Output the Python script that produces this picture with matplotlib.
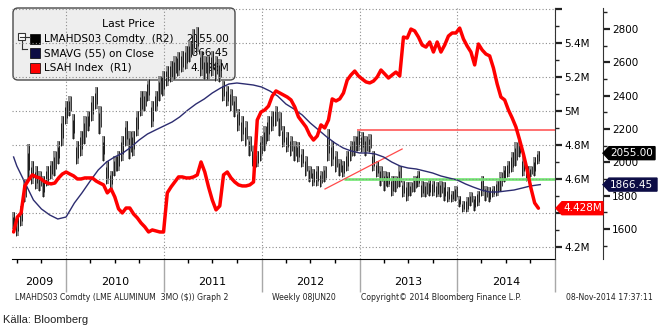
import numpy as np
import pandas as pd
import matplotlib
matplotlib.use("Agg")
import matplotlib.pyplot as plt
import matplotlib.dates as mdates
from matplotlib.patches import FancyBboxPatch, Polygon, Rectangle
from matplotlib.lines import Line2D
from matplotlib.transforms import blended_transform_factory, IdentityTransform
from matplotlib.ticker import FixedLocator, MultipleLocator, NullFormatter

plt.rcParams['font.family'] = ['DejaVu Sans']

# ---------------- data ----------------
bar_start = "2009-06-19"          # bi-weekly sampling of the weekly bars
price_low = [1600, 1560, 1620, 1760, 1900, 1870, 1840, 1830, 1790, 1860,
             1900, 1920, 1990, 2100, 2230, 2280, 2140, 1990, 2040, 2110,
             2190, 2250, 2320, 2170, 2010, 1870, 1840, 1920, 1950, 2010,
             2100, 2020, 2040, 2160, 2280, 2310, 2370, 2210, 2310, 2370,
             2400, 2460, 2480, 2500, 2520, 2540, 2560, 2600, 2650, 2660,
             2520, 2500, 2500, 2520, 2490, 2480, 2370, 2340, 2310, 2270,
             2190, 2130, 2100, 2040, 1980, 1970, 2010, 2070, 2130, 2190,
             2220, 2160, 2090, 2060, 2040, 2010, 2000, 1970, 1920, 1880,
             1860, 1860, 1850, 1880, 2010, 1980, 1940, 1920, 1910, 1950,
             2010, 2040, 2070, 2060, 2040, 2060, 1950, 1910, 1860, 1830,
             1850, 1800, 1820, 1850, 1790, 1770, 1800, 1820, 1850, 1790,
             1790, 1800, 1800, 1790, 1790, 1770, 1760, 1760, 1770, 1730,
             1700, 1700, 1740, 1710, 1740, 1800, 1770, 1760, 1790, 1800,
             1830, 1880, 1910, 1940, 1980, 2030, 1920, 1890, 1910, 1920,
             1990]
price_high = [1700, 1680, 1740, 1900, 2110, 2010, 1980, 1950, 1920, 1980,
              2010, 2070, 2130, 2280, 2370, 2400, 2290, 2130, 2190, 2280,
              2310, 2400, 2450, 2340, 2160, 2010, 1950, 2040, 2070, 2160,
              2250, 2190, 2190, 2310, 2430, 2430, 2500, 2370, 2430, 2520,
              2550, 2580, 2610, 2640, 2660, 2670, 2700, 2730, 2800, 2810,
              2670, 2640, 2640, 2670, 2640, 2620, 2490, 2460, 2440, 2400,
              2320, 2280, 2250, 2160, 2100, 2070, 2160, 2220, 2280, 2310,
              2340, 2300, 2220, 2180, 2160, 2130, 2120, 2080, 2040, 1980,
              1960, 1980, 1950, 1980, 2200, 2130, 2070, 2020, 2010, 2070,
              2130, 2160, 2190, 2180, 2160, 2170, 2070, 2010, 1980, 1950,
              1940, 1920, 1920, 1980, 1890, 1880, 1880, 1920, 1950, 1890,
              1880, 1900, 1890, 1880, 1890, 1880, 1850, 1830, 1860, 1800,
              1770, 1790, 1820, 1800, 1830, 1920, 1860, 1850, 1860, 1890,
              1940, 1980, 2010, 2060, 2120, 2130, 2040, 1980, 1980, 2030,
              2070]
lsah_index = [4.288, 4.376, 4.400, 4.559, 4.594, 4.624, 4.612, 4.606, 4.588, 4.576,
              4.571, 4.576, 4.606, 4.629, 4.641, 4.629, 4.618, 4.600, 4.600, 4.606,
              4.606, 4.606, 4.588, 4.576, 4.565, 4.518, 4.541, 4.494, 4.424, 4.400,
              4.429, 4.429, 4.394, 4.371, 4.341, 4.318, 4.288, 4.300, 4.294, 4.288,
              4.288, 4.518, 4.553, 4.582, 4.612, 4.612, 4.606, 4.606, 4.612, 4.624,
              4.700, 4.641, 4.553, 4.476, 4.418, 4.441, 4.624, 4.641, 4.606, 4.582,
              4.565, 4.559, 4.559, 4.565, 4.582, 4.947, 4.994, 5.006, 5.029, 5.088,
              5.118, 5.106, 5.094, 5.082, 5.065, 5.024, 4.965, 4.935, 4.906, 4.859,
              4.829, 4.853, 4.918, 4.900, 4.947, 5.071, 5.059, 5.071, 5.106, 5.182,
              5.212, 5.235, 5.206, 5.188, 5.171, 5.165, 5.176, 5.200, 5.241, 5.218,
              5.194, 5.212, 5.229, 5.206, 5.435, 5.429, 5.482, 5.471, 5.435, 5.388,
              5.376, 5.406, 5.347, 5.406, 5.347, 5.388, 5.441, 5.459, 5.459, 5.488,
              5.424, 5.382, 5.347, 5.271, 5.394, 5.359, 5.335, 5.324, 5.253, 5.159,
              5.082, 5.065, 5.006, 4.959, 4.906, 4.829, 4.747, 4.653, 4.547, 4.459,
              4.428]
sma_dates = (["2009-06-19"]
             + [d.strftime("%Y-%m-%d") for d in pd.date_range("2009-07-01", "2014-10-01", freq="MS")]
             + ["2014-11-07"])
sma_values = [2032, 1978, 1876, 1774, 1720, 1684, 1660,
              1672, 1756, 1816, 1888, 1954, 2002, 2032, 2056, 2092, 2134, 2170, 2194,
              2218, 2242, 2272, 2314, 2350, 2380, 2416, 2446, 2470, 2476, 2470, 2464,
              2452, 2428, 2398, 2350, 2320, 2284, 2236, 2194, 2152, 2116, 2086, 2068,
              2056, 2056, 2050, 2032, 2002, 1978, 1966, 1960, 1948, 1936, 1918, 1906,
              1894, 1870, 1852, 1834, 1822, 1822, 1828, 1834, 1846, 1858,
              1866.45]
last_price = 2055.00
last_sma = 1866.45
last_lsah = 4.428

resistance_level = 2195
resistance_start = "2012-12-22"
support_level = 1900
support_start = "2012-11-03"
trend_dates = ["2012-08-25", "2013-06-09"]
trend_values = [1840, 2080]

years = [2009, 2010, 2011, 2012, 2013, 2014]
r1_ticks = [4.2, 4.4, 4.6, 4.8, 5.0, 5.2, 5.4, 5.6]
r1_labels = ["4.2M", "", "4.6M", "4.8M", "5M", "5.2M", "5.4M", ""]
r2_ticks = [1600, 1800, 2000, 2200, 2400, 2600, 2800]
r2_labels = ["1600", "1800", "2000", "2200", "2400", "2600", "2800"]

legend_rows = [("LMAHDS03 Comdty  (R2)", "2055.00", "black"),
               ("SMAVG (55) on Close", "1866.45", "#0c0c45"),
               ("LSAH Index  (R1)", "4.428M", "#ff0000")]

# ---------------- figure ----------------
W, H = 662, 331
fig = plt.figure(figsize=(W / 100, H / 100), dpi=100)
fig.patch.set_facecolor('white')
L, R, T, B = 12, 555, 8, 259
axp = fig.add_axes([L / W, 1 - B / H, (R - L) / W, (B - T) / H])
axp.set_facecolor('none')
axr = axp.twinx()
axr.set_facecolor('none')
axp.yaxis.tick_right()

dates = pd.date_range(bar_start, periods=len(price_low), freq="14D")
x_left = pd.Timestamp("2009-06-13")
x_right = pd.Timestamp("2015-01-01")

# price bars
lo = np.array(price_low, dtype=float)
hi = np.array(price_high, dtype=float)
axp.bar(dates, hi - lo, bottom=lo, width=pd.Timedelta(days=11), color='#8c8c8c',
        edgecolor='none', zorder=2)
axp.vlines(dates - pd.Timedelta(days=4), lo, hi - (hi - lo) * 0.25, color='black', lw=0.55, zorder=3)
axp.vlines(dates + pd.Timedelta(days=3), lo + (hi - lo) * 0.25, hi, color='black', lw=0.55, zorder=3)
# moving average
axp.plot(pd.to_datetime(sma_dates), sma_values, color='#2c2c70', lw=1.0, zorder=4)
# annotation lines
axp.hlines(support_level, pd.Timestamp(support_start), x_right, color='#70e870', lw=1.9, zorder=3.5)
axp.hlines(resistance_level, pd.Timestamp(resistance_start), x_right, color='#ff4a4a', lw=1.1, zorder=3.5)
axp.plot(pd.to_datetime(trend_dates), trend_values, color='#ff4a4a', lw=0.9, zorder=3.5)
# LSAH index
axr.plot(dates, lsah_index, color='#ff0000', lw=2.5, solid_joinstyle='round',
         solid_capstyle='round', zorder=5)

axp.set_xlim(x_left, x_right)
axp.set_ylim(1420, 2926)
axr.set_ylim(4.129, 5.606)

# spines
for ax in (axp, axr):
    ax.spines['top'].set_visible(False)
    ax.spines['left'].set_visible(False)
axr.spines['bottom'].set_visible(False)
axp.spines['right'].set_position(('axes', (603 - L) / (R - L)))
axp.spines['right'].set_color('#333333')
axr.spines['right'].set_color('#333333')
axp.spines['bottom'].set_color('black')

# x axis
axp.xaxis.set_major_locator(mdates.YearLocator())
axp.xaxis.set_minor_locator(mdates.MonthLocator(bymonth=[4, 7, 10]))
axp.xaxis.set_major_formatter(NullFormatter())
axp.tick_params(axis='x', which='major', length=24, width=1, color='#a8a8a8', direction='out')
axp.tick_params(axis='x', which='minor', length=3, width=1, color='black', direction='out')
axp.grid(axis='x', which='major', color='#8c8c8c', ls=(0, (1, 2)), lw=0.8)

# y axes
axr.yaxis.set_major_locator(FixedLocator(r1_ticks))
axr.set_yticklabels(r1_labels)
axr.yaxis.set_minor_locator(MultipleLocator(0.1))
axr.tick_params(axis='y', which='major', length=5, width=1.6, pad=1.5, labelsize=7.5, colors='#222222')
axr.tick_params(axis='y', which='minor', length=3, width=1, colors='#222222')
axr.grid(axis='y', which='major', color='#8c8c8c', ls=(0, (1, 2)), lw=0.8)

axp.yaxis.set_major_locator(FixedLocator(r2_ticks))
axp.set_yticklabels(r2_labels)
axp.yaxis.set_minor_locator(MultipleLocator(100))
axp.tick_params(axis='y', which='major', length=5, width=1.6, pad=1.5, labelsize=7.5, colors='#222222')
axp.tick_params(axis='y', which='minor', length=3, width=1, colors='#222222')
for lab in axp.get_yticklabels() + axr.get_yticklabels():
    lab.set_color('black')

# year labels
btr = blended_transform_factory(axp.transData, axp.transAxes)
for yr in years:
    a = max(pd.Timestamp(f"{yr}-01-01"), x_left)
    b = min(pd.Timestamp(f"{yr + 1}-01-01"), x_right)
    mid = a + (b - a) / 2
    axp.text(mdates.date2num(mid), -(282 - B) / (B - T), str(yr), transform=btr,
             ha='center', va='center', fontsize=8, color='black', clip_on=False)

idt = IdentityTransform()

def px(x, ytop):
    return (x, H - ytop)

# value boxes on the right axes
def value_box(ax, val, x0, x1, fc, txt, half=6.5):
    yd = ax.transData.transform((ax.get_xlim()[0], val))[1]
    poly = Polygon([(x0, yd), (x0 + 6, yd + half), (x1, yd + half), (x1, yd - half),
                    (x0 + 6, yd - half)], closed=True, transform=idt, fc=fc, ec=fc, zorder=10)
    fig.add_artist(poly)
    fig.text(x0 + 7, yd, txt, transform=idt, color='white', va='center', ha='left',
             fontsize=7.5, zorder=11)

value_box(axp, last_price, 603, 655, 'black', f"{last_price:.2f}")
value_box(axp, last_sma, 603, 657, '#0c0c45', f"{last_sma:.2f}")
value_box(axr, last_lsah, 556, 603, '#ff0000', f"{last_lsah:.3f}M")

# legend box (drawn behind the data)
lx0, ly0, lx1, ly1 = 13, 8, 235, 80
box = FancyBboxPatch(px(lx0, ly1), lx1 - lx0, ly1 - ly0,
                     boxstyle='round,pad=0,rounding_size=5', transform=idt,
                     fc='#eeeeee', ec='#4a4a4a', lw=1.0, zorder=-2)
fig.add_artist(box)
fig.text(*px(128, 24), "Last Price", transform=idt, ha='center', va='center',
         fontsize=7.8, color='black', zorder=-1)
row_y = [39, 53, 68]
for (lab, val, col), ry in zip(legend_rows, row_y):
    fig.add_artist(Rectangle(px(30, ry + 5), 10, 10, transform=idt, fc=col, ec='black',
                             lw=0.5, zorder=-1))
    fig.text(*px(44, ry), lab, transform=idt, ha='left', va='center', fontsize=7.5,
             color='black', zorder=-1)
    fig.text(*px(229, ry), val, transform=idt, ha='right', va='center', fontsize=7.5,
             color='black', zorder=-1)
# tree icon
fig.add_artist(Rectangle(px(18, 40), 7, 7, transform=idt, fc='white', ec='#333333', lw=0.8, zorder=-1))
for xs, ys in [([19.5, 23.5], [36.5, 36.5]), ([25, 30], [36.5, 36.5]),
               ([21.5, 21.5], [40, 49]), ([21.5, 27], [49, 49])]:
    fig.add_artist(Line2D(xs, [H - v for v in ys], transform=idt, color='#333333', lw=0.8, zorder=-1))

# footer
foot_y = 298
fig.text(*px(15, foot_y), "LMAHDS03 Comdty (LME ALUMINUM  3MO ($)) Graph 2", transform=idt,
         ha='left', va='center', fontsize=5.6, color='#222222')
fig.text(*px(272, foot_y), "Weekly 08JUN20", transform=idt, ha='left', va='center',
         fontsize=5.6, color='#222222')
fig.text(*px(361, foot_y), "Copyright\u00a9 2014 Bloomberg Finance L.P.", transform=idt,
         ha='left', va='center', fontsize=5.6, color='#222222')
fig.text(*px(566, foot_y), "08-Nov-2014 17:37:11", transform=idt, ha='left', va='center',
         fontsize=5.6, color='#222222')
fig.text(*px(3, 320), "K\u00e4lla: Bloomberg", transform=idt, ha='left', va='center',
         fontsize=8, color='#222222', family=['Liberation Sans', 'DejaVu Sans'])

fig.savefig("out.png", dpi=100)
